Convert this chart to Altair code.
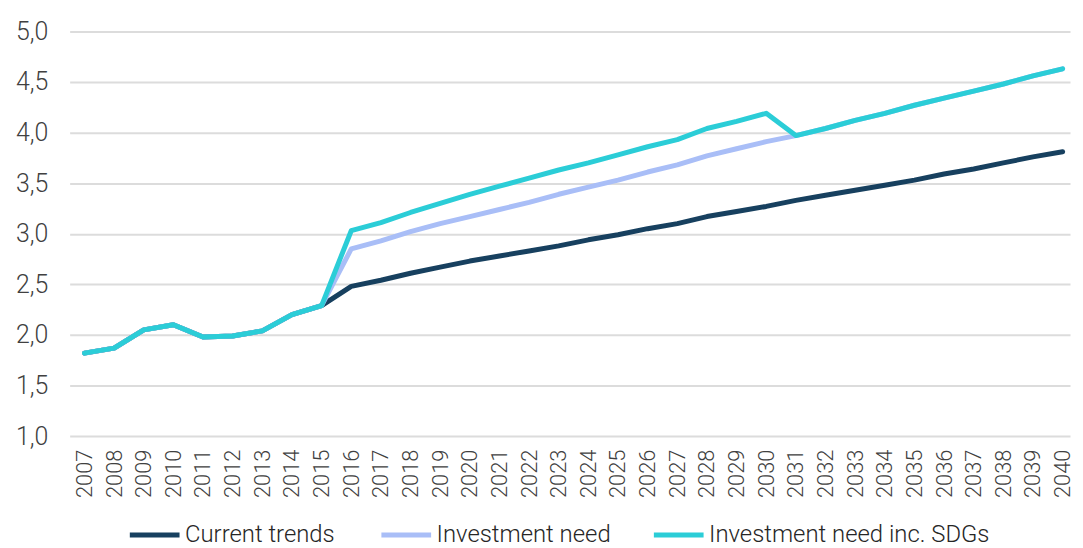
import altair as alt
import pandas as pd

years = list(range(2007, 2041))
shared = [1.82, 1.87, 2.05, 2.10, 1.98, 1.99, 2.04, 2.20, 2.29]
current_trends = shared + [2.48, 2.54, 2.61, 2.67, 2.73, 2.78, 2.83, 2.88, 2.94, 2.99,
                           3.05, 3.10, 3.17, 3.22, 3.27, 3.33, 3.38, 3.43, 3.48, 3.53,
                           3.59, 3.64, 3.70, 3.76, 3.81]
tail = [3.97, 4.04, 4.12, 4.19, 4.27, 4.34, 4.41, 4.48, 4.56, 4.63]
investment_need = shared + [2.85, 2.93, 3.02, 3.10, 3.17, 3.24, 3.31, 3.39, 3.46, 3.53,
                            3.61, 3.68, 3.77, 3.84, 3.91] + tail
investment_sdg = shared + [3.03, 3.11, 3.21, 3.30, 3.39, 3.47, 3.55, 3.63, 3.70, 3.78,
                           3.86, 3.93, 4.04, 4.11, 4.19] + tail

series_names = ["Current trends", "Investment need", "Investment need inc. SDGs"]
series_colors = ["#17405F", "#A9BEF7", "#2BCDD7"]
legend_x = [58, 311, 585]
y_ticks = [1.0, 1.5, 2.0, 2.5, 3.0, 3.5, 4.0, 4.5, 5.0]

rows = []
for name, vals in zip(series_names, [current_trends, investment_need, investment_sdg]):
    for y, v in zip(years, vals):
        rows.append({"year": y, "value": v, "series": name})
df = pd.DataFrame(rows)

FONT = "Roboto"

x_enc = alt.X("year:Q",
              scale=alt.Scale(domain=[2006.5, 2040.25], nice=False, zero=False),
              axis=alt.Axis(values=years, format="d", labelAngle=-90, grid=False, ticks=False,
                            domain=False, labelPadding=13, labelFontSize=22, labelFont=FONT,
                            labelFontWeight=300, labelColor="#404040", title=None,
                            labelOverlap=False, labelFlush=False))
y_enc = alt.Y("value:Q",
              scale=alt.Scale(domain=[1.0, 5.0], nice=False, zero=False),
              axis=alt.Axis(values=y_ticks,
                            labelExpr="replace(format(datum.value, '.1f'), '.', ',')",
                            grid=True, gridColor="#DCDCDC", gridWidth=2, ticks=False,
                            domain=False, labelPadding=22, labelFontSize=25, labelFont=FONT,
                            labelFontWeight=300, labelColor="#404040", title=None))

layers = []
for name, col, lx in zip(series_names, series_colors, legend_x):
    layer = alt.Chart(df).transform_filter(alt.datum.series == name).mark_line(
        strokeWidth=5, strokeCap="round", strokeJoin="round"
    ).encode(
        x=x_enc,
        y=y_enc,
        color=alt.Color("series:N",
                        scale=alt.Scale(domain=[name], range=[col]),
                        legend=alt.Legend(title=None, orient="none", direction="horizontal",
                                          legendX=lx, legendY=479, symbolType="stroke",
                                          symbolSize=2500, symbolStrokeWidth=5,
                                          labelFontSize=24, labelFont=FONT,
                                          labelFontWeight=300, labelColor="#262626",
                                          labelOffset=3, padding=0, labelLimit=400)),
    )
    layers.append(layer)

chart = alt.layer(*layers).resolve_scale(color="independent").resolve_legend(
    color="independent"
).properties(
    width=1006, height=407,
    autosize=alt.AutoSizeParams(type="none"),
    padding={"left": 62, "top": 22, "right": 5, "bottom": 110},
).configure_view(stroke=None)

chart.save("out.html", embed_options={"renderer": "svg", "actions": False})
